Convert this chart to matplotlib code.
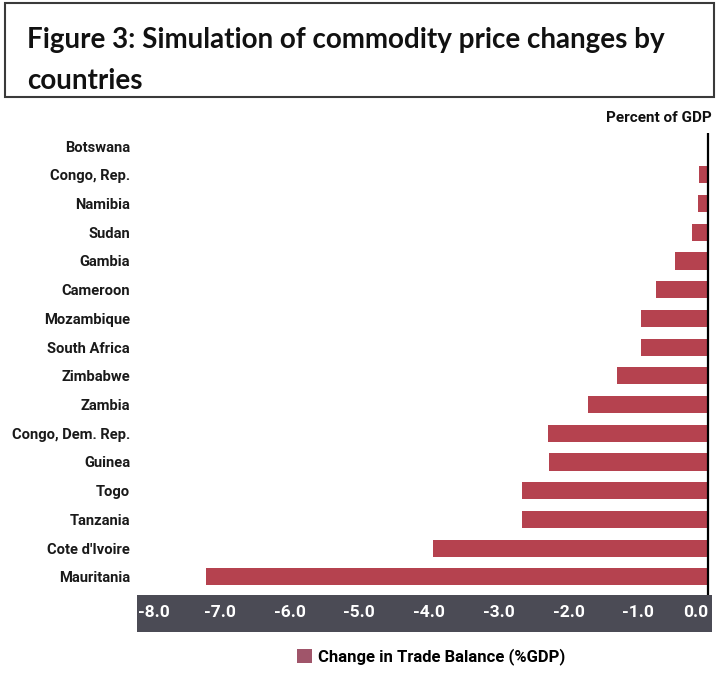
import matplotlib
matplotlib.use("Agg")
import matplotlib.pyplot as plt
from matplotlib.patches import Rectangle, Patch
import matplotlib.transforms as mtransforms

countries = ["Botswana", "Congo, Rep.", "Namibia", "Sudan", "Gambia", "Cameroon",
             "Mozambique", "South Africa", "Zimbabwe", "Zambia", "Congo, Dem. Rep.",
             "Guinea", "Togo", "Tanzania", "Cote d'Ivoire", "Mauritania"]
values = [-0.02, -0.13, -0.15, -0.23, -0.47, -0.75, -0.96, -0.96, -1.31, -1.72,
          -2.29, -2.28, -2.66, -2.66, -3.94, -7.2]
xticks = [-8.0, -7.0, -6.0, -5.0, -4.0, -3.0, -2.0, -1.0, 0.0]
xticklabels = ["-8.0", "-7.0", "-6.0", "-5.0", "-4.0", "-3.0", "-2.0", "-1.0", "0.0"]
series_name = "Change in Trade Balance (%GDP)"
unit_label = "Percent of GDP"
title_lines = ["Figure 3: Simulation of commodity price changes by", "countries"]

W, H = 719, 676
fig = plt.figure(figsize=(W / 100, H / 100), dpi=100)
fig.patch.set_facecolor("white")

NARROW = ["Roboto", "DejaVu Sans"]

def fx(px):
    return px / W

def fy(py):
    return 1 - py / H

ax_left, ax_right = 137, 712
ax_top, ax_bot = 133, 595
ax = fig.add_axes([fx(ax_left), fy(ax_bot), fx(ax_right - ax_left), (ax_bot - ax_top) / H])
xmin = -8 - 13 / 69.75
xmax = 0 + 4 / 69.75
ypos = list(range(len(countries)))
ax.barh(ypos, values, height=0.6, color="#b5424f", zorder=2)
ax.set_xlim(xmin, xmax)
ax.set_ylim(15 + 18 / 28.5, -15 / 28.5 + 0.07)
ax.axvline(0, color="black", lw=1.6, zorder=3)
ax.set_yticks(ypos)
ax.set_yticklabels(countries, family=NARROW, fontweight="bold", fontsize=10.6, color="#1a1a1a")
ax.tick_params(axis="y", length=0, pad=5)
ax.set_xticks([])
for s in ax.spines.values():
    s.set_visible(False)

ax_b = fig.add_axes([fx(ax_left), fy(632), fx(ax_right - ax_left), (632 - 595) / H])
ax_b.set_facecolor("#4b4b55")
ax_b.set_xlim(xmin, xmax)
ax_b.set_yticks([])
ax_b.set_xticks(xticks)
ax_b.set_xticklabels(xticklabels, family=NARROW, fontweight="bold", fontsize=12.5, color="white")
ax_b.tick_params(axis="x", length=0, pad=-19.5)
for s in ax_b.spines.values():
    s.set_visible(False)
lbls = ax_b.get_xticklabels()
lbls[-1].set_transform(lbls[-1].get_transform() + mtransforms.ScaledTranslation(-12 / 100, 0, fig.dpi_scale_trans))
lbls[0].set_transform(lbls[0].get_transform() + mtransforms.ScaledTranslation(4 / 100, 0, fig.dpi_scale_trans))

fig.patches.append(Rectangle((fx(5), fy(97)), fx(709), (97 - 3) / H, transform=fig.transFigure,
                             fill=False, edgecolor="#3a3a3a", lw=1.5))
fig.text(fx(27), fy(40), title_lines[0], family=["Lato", "DejaVu Sans"], fontweight="bold",
         fontsize=20, va="center", ha="left", color="#111111")
fig.text(fx(27), fy(81), title_lines[1], family=["Lato", "DejaVu Sans"], fontweight="bold",
         fontsize=20, va="center", ha="left", color="#111111")

fig.text(fx(712), fy(118), unit_label, family=NARROW, fontweight="bold", fontsize=11,
         ha="right", va="center", color="#111111")

handle = Patch(facecolor="#a0556a", edgecolor="none")
fig.legend([handle], [series_name], loc="center", bbox_to_anchor=(fx(431), fy(657)),
           frameon=False, prop={"family": NARROW, "weight": "bold", "size": 12},
           handlelength=0.9, handleheight=0.9, handletextpad=0.4)

fig.savefig("out.png", dpi=100, facecolor="white")
